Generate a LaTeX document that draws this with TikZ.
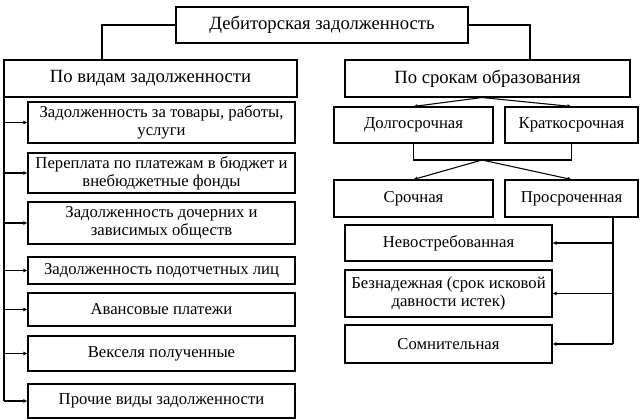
\documentclass[tikz,border=0pt]{standalone}
\usepackage{fontspec}
\setmainfont{Liberation Serif}
\usetikzlibrary{arrows.meta,positioning}
\tikzset{
    box/.style={rectangle, draw=black, line width=0.8pt, align=center, inner sep=1pt, font=\fontsize{12.5}{13.5}\selectfont},
    head/.style={box, font=\fontsize{14}{15}\selectfont},
    link/.style={line width=0.8pt},
    arr/.style={link, -{Latex[length=3pt,width=3pt]}}
}
\begin{document}
\begin{tikzpicture}[x=0.75pt,y=-0.75pt]
\useasboundingbox (0,0) rectangle (640,420);

% Header level
\node[head, minimum width=292*0.75pt, minimum height=36*0.75pt] (root) at (322,25) {Дебиторская задолженность};
\node[head, minimum width=293*0.75pt, minimum height=37*0.75pt] (kinds) at (150.5,78.5) {По видам задолженности};
\node[head, minimum width=285*0.75pt, minimum height=37*0.75pt] (terms) at (487.5,78.5) {По срокам образования};

% Left column
\node[box, minimum width=267*0.75pt, minimum height=41*0.75pt] (K1) at (161.5,122.5) {Задолженность за товары, работы,\\услуги};
\node[box, minimum width=267*0.75pt, minimum height=40*0.75pt] (K2) at (161.5,173) {Переплата по платежам в бюджет и\\внебюджетные фонды};
\node[box, minimum width=267*0.75pt, minimum height=42*0.75pt] (K3) at (161.5,223) {Задолженность дочерних и\\зависимых обществ};
\node[box, minimum width=267*0.75pt, minimum height=27*0.75pt] (K4) at (161.5,270.5) {Задолженность подотчетных лиц};
\node[box, minimum width=267*0.75pt, minimum height=33*0.75pt] (K5) at (161.5,309.5) {Авансовые платежи};
\node[box, minimum width=267*0.75pt, minimum height=35*0.75pt] (K6) at (161.5,353.5) {Векселя полученные};
\node[box, minimum width=267*0.75pt, minimum height=34*0.75pt] (K7) at (161.5,401) {Прочие виды задолженности};

% Right column
\node[box, minimum width=159*0.75pt, minimum height=36*0.75pt] (long) at (413.5,125) {Долгосрочная};
\node[box, minimum width=133*0.75pt, minimum height=36*0.75pt] (short) at (571.5,125) {Краткосрочная};
\node[box, minimum width=159*0.75pt, minimum height=37*0.75pt] (ontime) at (413.5,198.5) {Срочная};
\node[box, minimum width=133*0.75pt, minimum height=37*0.75pt] (overdue) at (571.5,198.5) {Просроченная};
\node[box, minimum width=207*0.75pt, minimum height=36*0.75pt] (O1) at (448.5,243) {Невостребованная};
\node[box, minimum width=207*0.75pt, minimum height=47*0.75pt] (O2) at (448.5,293.5) {Безнадежная (срок исковой\\давности истек)};
\node[box, minimum width=207*0.75pt, minimum height=38*0.75pt] (O3) at (448.5,344) {Сомнительная};

\coordinate (split) at (482,160);
\coordinate (trunk) at (4,97);
\coordinate (rtrunk) at (613,217);

% Connectors
\draw[link] (root.west |- 0,25) -| (kinds.north -| 102,0);
\draw[link] (root.east |- 0,25) -| (terms.north -| 530,0);
\draw[arr] (terms.south -| split) -- (long.north);
\draw[arr] (terms.south -| split) -- (short.north);
\draw[link] (long.south) |- (split) -| (short.south);
\draw[arr] (split) -- (ontime.north);
\draw[arr] (split) -- (overdue.north);

\draw[link] (trunk) -- (trunk |- K7.west);
\foreach \k in {1,...,7} {
  \draw[arr] (trunk |- K\k.west) -- (K\k.west);
}

\draw[link] (rtrunk) -- (rtrunk |- O3.east);
\foreach \k in {1,2,3} {
  \draw[arr] (rtrunk |- O\k.east) -- (O\k.east);
}

\end{tikzpicture}
\end{document}
